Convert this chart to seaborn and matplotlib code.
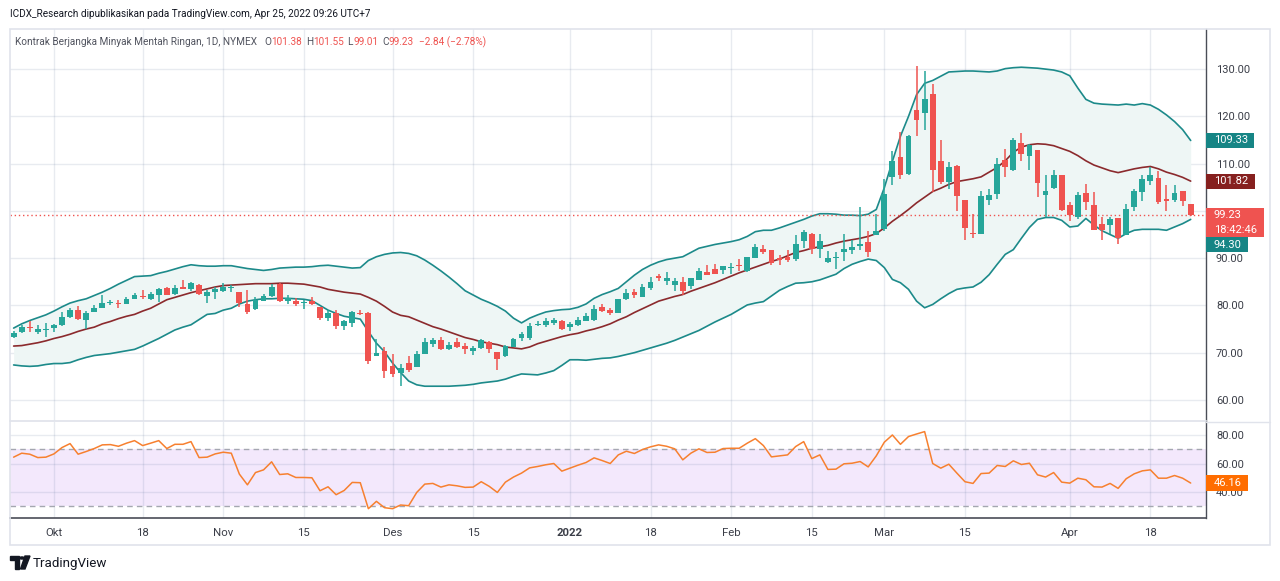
import numpy as np
import pandas as pd
import matplotlib
matplotlib.use("Agg")
import matplotlib.pyplot as plt
import matplotlib.transforms as mtransforms
from matplotlib import font_manager
from matplotlib.patches import Rectangle, Polygon, Circle
from matplotlib.lines import Line2D
import seaborn as sns

# ---------------- data ----------------
start_date = "2021-09-24"
end_date = "2022-04-25"
market_holidays = ["2021-11-25", "2021-12-24", "2022-01-17", "2022-02-21", "2022-04-15"]

open_ = [73.3, 74.3, 75.5, 74.4, 74.8, 75.2, 75.8, 77.5, 79.0, 76.9,
         78.7, 79.5, 80.5, 80.6, 80.4, 81.4, 81.9, 81.4, 82.3, 83.6,
         82.5, 83.9, 83.4, 84.3, 82.0, 82.8, 83.1, 83.7, 82.9, 80.2,
         79.2, 80.9, 81.9, 84.5, 81.0, 81.0, 80.5, 80.9, 79.7, 77.4,
         78.4, 75.7, 76.3, 78.4, 78.4, 69.2, 70.3, 67.2, 65.7, 67.8,
         67.0, 69.7, 71.9, 72.6, 70.7, 72.2, 71.4, 70.3, 71.0, 72.2,
         70.1, 69.3, 71.2, 73.0, 73.1, 75.9, 75.9, 76.2, 76.7, 75.5,
         75.9, 76.8, 77.0, 79.6, 79.0, 78.4, 81.3, 82.9, 81.7, 83.6,
         86.2, 85.1, 84.4, 85.0, 84.1, 85.3, 87.1, 87.6, 87.4, 88.0,
         88.4, 87.3, 90.1, 92.0, 91.7, 90.0, 90.3, 89.8, 93.7, 95.1,
         92.0, 89.1, 90.0, 91.3, 91.7, 92.5, 93.5, 94.9, 96.1, 107.1,
         111.5, 107.9, 121.4, 120.7, 124.8, 110.6, 106.1, 109.6, 102.4, 95.4,
         95.2, 102.3, 103.5, 110.8, 108.6, 114.4, 111.6, 112.8, 103.3, 104.9,
         107.5, 101.2, 98.7, 103.8, 101.2, 97.2, 97.0, 98.5, 94.9, 100.8,
         104.0, 106.3, 107.0, 102.5, 102.3, 104.2, 101.38]
high = [74.5, 75.8, 76.8, 75.9, 76.2, 76.1, 78.6, 79.4, 79.9, 78.8,
        80.0, 82.2, 81.2, 81.2, 81.7, 82.7, 83.2, 82.9, 83.7, 83.9,
        84.4, 85.3, 84.9, 84.5, 83.2, 83.8, 84.7, 84.3, 82.9, 83.2,
        81.7, 82.4, 84.5, 84.8, 82.3, 81.5, 81.2, 81.7, 79.7, 79.0,
        79.1, 77.0, 78.8, 79.1, 78.6, 72.9, 71.2, 69.7, 67.6, 69.4,
        70.3, 73.1, 73.1, 73.4, 72.3, 73.1, 72.1, 71.4, 72.8, 72.4,
        70.1, 71.7, 73.2, 74.3, 76.2, 76.8, 77.3, 77.4, 77.0, 76.5,
        77.6, 78.3, 80.1, 80.4, 79.5, 81.4, 83.4, 83.4, 84.6, 86.1,
        86.6, 87.1, 85.8, 86.1, 85.9, 88.0, 88.6, 88.8, 88.4, 89.0,
        89.8, 90.3, 93.1, 92.7, 91.7, 90.7, 91.7, 94.8, 96.0, 95.4,
        95.2, 91.6, 91.3, 95.1, 93.9, 100.8, 95.8, 99.4, 106.8, 112.6,
        116.8, 116.1, 130.7, 129.6, 126.9, 115.1, 110.4, 109.8, 102.4, 99.4,
        104.3, 104.6, 111.2, 113.2, 115.4, 116.5, 114.1, 112.8, 107.7, 108.7,
        107.7, 101.9, 104.0, 105.6, 104.0, 98.7, 98.7, 98.5, 101.4, 104.7,
        107.5, 109.3, 108.5, 105.4, 105.4, 104.2, 101.55]
low = [73.1, 74.1, 74.4, 74.0, 73.4, 74.4, 75.7, 77.4, 77.0, 75.1,
       78.7, 79.5, 80.0, 79.5, 80.3, 81.4, 81.4, 81.2, 80.8, 82.2,
       82.3, 83.5, 83.1, 82.1, 80.5, 81.4, 82.8, 82.8, 79.7, 78.1,
       79.0, 80.9, 81.7, 80.7, 80.2, 79.9, 79.2, 80.0, 76.9, 76.6,
       75.0, 74.8, 75.4, 78.0, 67.6, 69.2, 64.7, 64.8, 63.0, 66.0,
       67.0, 69.7, 71.2, 70.6, 70.5, 70.9, 69.7, 69.5, 70.8, 69.9,
       66.4, 69.0, 71.2, 72.4, 72.6, 75.7, 75.5, 75.9, 74.9, 74.5,
       75.7, 76.6, 76.8, 78.7, 78.0, 78.3, 81.2, 81.6, 81.7, 83.2,
       85.1, 84.4, 83.1, 82.3, 83.4, 85.3, 86.4, 86.7, 86.6, 86.7,
       87.2, 87.1, 90.1, 90.8, 88.6, 88.5, 89.1, 89.3, 92.2, 90.8,
       90.1, 88.9, 87.6, 89.4, 90.8, 91.7, 90.3, 94.9, 95.7, 105.4,
       106.8, 107.5, 115.8, 117.2, 104.0, 105.6, 104.6, 99.9, 93.8, 94.2,
       95.2, 101.2, 102.6, 107.2, 108.4, 110.6, 108.6, 103.0, 98.7, 104.6,
       99.9, 97.9, 98.2, 100.1, 95.9, 93.8, 95.1, 93.0, 94.9, 100.0,
       102.1, 105.4, 101.5, 100.0, 101.9, 101.0, 99.01]
close = [74.1, 75.5, 75.2, 75.0, 75.1, 75.9, 77.6, 79.0, 77.2, 78.4,
         79.5, 80.5, 80.8, 80.4, 81.4, 82.2, 81.7, 82.4, 83.4, 82.3,
         83.6, 83.5, 84.7, 82.5, 82.9, 83.4, 83.9, 83.9, 80.6, 78.6,
         81.2, 81.9, 83.9, 81.0, 81.6, 80.4, 80.8, 80.4, 77.3, 78.4,
         75.7, 76.7, 78.6, 78.2, 68.3, 70.0, 66.2, 65.5, 66.8, 66.3,
         69.7, 72.2, 72.6, 70.8, 71.7, 71.2, 70.7, 70.9, 72.6, 70.7,
         68.6, 71.4, 72.8, 73.9, 75.7, 76.1, 76.6, 76.9, 75.0, 76.1,
         76.9, 77.7, 79.3, 78.8, 78.3, 81.3, 82.7, 82.1, 83.9, 85.0,
         85.8, 85.7, 85.2, 83.1, 85.7, 87.3, 86.5, 86.7, 88.3, 88.2,
         88.3, 90.2, 92.3, 91.2, 89.0, 89.7, 89.7, 93.1, 95.6, 92.0,
         93.7, 90.1, 90.3, 92.0, 92.3, 93.0, 91.4, 95.8, 103.5, 110.6,
         107.7, 115.8, 119.3, 123.7, 108.6, 106.1, 109.3, 103.1, 96.4, 95.1,
         103.1, 103.3, 110.0, 109.2, 114.9, 112.1, 113.9, 105.8, 104.2, 107.7,
         100.1, 99.2, 103.3, 101.9, 95.9, 95.9, 98.2, 94.2, 100.5, 104.2,
         106.8, 107.5, 101.9, 102.1, 103.7, 102.07, 99.23]

bb_upper = [75.2, 76.1, 76.8, 77.4, 78.0, 78.8, 79.7, 80.5, 81.0, 81.4,
            82.1, 82.8, 83.6, 84.5, 85.3, 86.1, 86.2, 86.3, 86.8, 87.2,
            87.7, 88.2, 88.6, 88.4, 88.3, 88.3, 88.4, 88.4, 88.1, 87.8,
            87.6, 87.4, 87.6, 87.9, 88.0, 88.1, 88.1, 88.2, 88.4, 88.5,
            88.3, 88.1, 87.9, 88.0, 89.5, 90.3, 90.8, 91.1, 91.2, 91.0,
            90.5, 89.6, 88.5, 87.3, 86.0, 84.6, 83.1, 82.2, 81.3, 80.6,
            79.8, 78.8, 77.3, 76.3, 77.3, 78.0, 78.6, 78.9, 79.1, 79.2,
            79.6, 80.3, 81.5, 82.3, 82.9, 83.6, 85.0, 86.4, 87.6, 88.5,
            89.2, 89.7, 90.0, 90.3, 91.2, 92.1, 92.5, 92.9, 93.2, 93.5,
            93.9, 94.6, 95.6, 95.9, 95.9, 96.4, 97.0, 97.6, 98.2, 98.9,
            99.4, 99.4, 99.3, 99.1, 99.1, 99.0, 99.3, 100.3, 104.9, 110.5,
            115.8, 120.0, 124.6, 127.0, 127.6, 128.5, 129.4, 129.5, 129.6, 129.6,
            129.5, 129.4, 129.6, 130.1, 130.3, 130.4, 130.3, 130.2, 130.0, 129.8,
            129.4, 128.6, 126.0, 123.6, 122.8, 122.6, 122.5, 122.4, 122.6, 122.4,
            122.7, 122.4, 121.5, 120.3, 118.9, 117.2, 114.9]
bb_basis = [71.4, 71.5, 71.8, 72.1, 72.5, 73.0, 73.4, 73.9, 74.5, 75.0,
            75.4, 76.1, 76.6, 77.2, 77.7, 78.1, 78.8, 79.4, 80.3, 81.2,
            81.7, 82.2, 82.7, 83.1, 83.5, 83.9, 84.2, 84.3, 84.4, 84.5,
            84.6, 84.6, 84.6, 84.7, 84.7, 84.6, 84.5, 84.2, 83.9, 83.4,
            83.1, 82.8, 82.6, 82.4, 81.7, 80.9, 79.8, 78.6, 77.9, 77.6,
            76.9, 76.2, 75.5, 75.0, 74.4, 73.8, 73.2, 72.8, 72.3, 72.0,
            71.7, 71.2, 71.0, 70.8, 71.2, 71.9, 72.4, 72.9, 73.4, 73.8,
            74.1, 74.6, 75.0, 75.5, 76.1, 76.9, 77.6, 78.5, 79.3, 80.1,
            80.9, 81.4, 81.9, 82.3, 83.0, 83.6, 84.2, 84.8, 85.5, 86.2,
            86.9, 87.5, 88.1, 88.7, 89.3, 89.8, 90.5, 91.2, 91.6, 92.1,
            92.4, 92.7, 93.2, 93.6, 93.9, 94.2, 94.6, 95.2, 96.4, 97.8,
            99.0, 100.3, 101.7, 102.9, 104.1, 104.8, 105.6, 106.2, 106.5, 106.8,
            107.2, 108.2, 109.2, 110.6, 112.4, 113.5, 114.0, 114.2, 114.1, 113.8,
            113.2, 112.6, 111.7, 110.6, 109.7, 109.1, 108.5, 108.1, 108.5, 108.9,
            109.2, 109.4, 108.9, 108.2, 107.7, 107.1, 106.3]
bb_lower = [67.4, 67.2, 67.1, 67.2, 67.5, 67.7, 67.7, 67.9, 68.5, 69.0,
            69.4, 69.6, 69.8, 70.1, 70.4, 70.7, 71.4, 72.2, 73.0, 73.9,
            74.8, 75.4, 75.9, 77.0, 78.1, 78.3, 79.0, 79.4, 80.3, 80.9,
            81.2, 81.4, 81.4, 81.5, 81.5, 81.4, 81.3, 81.0, 80.0, 79.0,
            78.3, 77.7, 77.4, 77.1, 74.5, 72.0, 70.2, 67.8, 65.8, 64.0,
            63.2, 62.9, 62.9, 62.9, 62.9, 63.0, 63.1, 63.3, 63.6, 63.8,
            64.0, 64.4, 65.0, 65.5, 65.4, 65.3, 65.7, 66.2, 67.3, 68.5,
            68.5, 68.4, 68.6, 68.8, 68.9, 69.2, 69.6, 70.0, 70.5, 71.0,
            71.5, 72.0, 72.6, 73.3, 74.0, 74.7, 75.6, 76.5, 77.3, 78.1,
            79.1, 80.1, 80.5, 80.8, 82.0, 83.2, 84.0, 84.7, 84.8, 85.0,
            85.4, 86.0, 86.6, 87.8, 88.7, 89.3, 89.8, 89.5, 88.0, 85.5,
            84.8, 83.4, 80.9, 79.5, 80.2, 81.4, 82.5, 83.4, 83.7, 83.9,
            84.9, 86.5, 88.7, 90.8, 91.8, 94.2, 96.5, 98.2, 98.6, 98.6,
            98.0, 96.6, 96.8, 98.4, 97.0, 95.8, 95.0, 94.2, 95.2, 95.9,
            96.1, 96.1, 96.1, 95.9, 96.6, 97.3, 98.2]
bb_labels = ["109.33", "101.82", "94.30"]

rsi = [64.5, 67.3, 66.6, 64.2, 64.5, 66.8, 71.3, 74.1, 66.6, 68.5,
       70.6, 73.2, 73.4, 72.2, 74.4, 76.2, 72.7, 74.4, 76.2, 70.6,
       73.6, 73.6, 75.5, 64.2, 64.5, 66.8, 68.0, 67.3, 52.5, 44.9,
       53.6, 55.5, 61.2, 52.2, 52.7, 50.1, 50.1, 49.9, 40.7, 43.5,
       37.9, 40.9, 46.6, 46.4, 28.0, 33.2, 28.7, 28.0, 30.6, 30.1,
       39.5, 45.4, 45.9, 43.3, 44.9, 44.2, 43.1, 43.3, 47.1, 43.8,
       39.5, 46.8, 50.4, 53.2, 56.9, 57.9, 59.1, 60.0, 54.6, 56.7,
       58.8, 60.7, 64.0, 62.1, 60.0, 66.1, 68.7, 67.1, 69.9, 71.8,
       73.2, 72.2, 70.4, 62.6, 67.3, 70.4, 67.8, 68.0, 70.6, 70.8,
       70.8, 74.4, 77.6, 72.7, 64.7, 65.4, 66.1, 72.0, 75.5, 63.5,
       66.1, 55.8, 56.0, 59.8, 60.2, 61.4, 57.6, 65.4, 75.1, 80.2,
       73.6, 79.1, 80.9, 82.6, 60.0, 56.7, 59.5, 53.2, 47.1, 45.9,
       52.9, 53.2, 58.6, 57.9, 61.9, 59.3, 60.2, 52.0, 50.4, 53.6,
       46.8, 46.1, 49.6, 48.5, 43.5, 43.3, 45.9, 42.4, 49.2, 52.7,
       54.8, 55.5, 49.6, 49.6, 51.5, 49.6, 46.16]

tick_dates = ["2021-10-01", "2021-10-18", "2021-11-01", "2021-11-15", "2021-12-01",
              "2021-12-15", "2022-01-03", "2022-01-18", "2022-02-01", "2022-02-15",
              "2022-03-01", "2022-03-15", "2022-04-01", "2022-04-18"]
tick_labels = ["Okt", "18", "Nov", "15", "Des", "15", "2022", "18", "Feb", "15",
               "Mar", "15", "Apr", "18"]
price_ticks = [60, 70, 80, 90, 100, 110, 120, 130]
price_tick_labels = ["60.00", "70.00", "80.00", "90.00", "", "110.00", "120.00", "130.00"]
rsi_ticks = [40, 60, 80]
rsi_tick_labels = ["40.00", "60.00", "80.00"]

title_text = "ICDX_Research dipublikasikan pada TradingView.com, Apr 25, 2022 09:26 UTC+7"
symbol_text = "Kontrak Berjangka Minyak Mentah Ringan, 1D, NYMEX"
countdown_text = "18:42:46"

# ---------------- setup ----------------
sns.set_theme(style="white")
plt.rcParams["font.family"] = ["Roboto", "DejaVu Sans"]

installed = {f.name for f in font_manager.fontManager.ttflist}
if "Liberation Sans Narrow" in installed:
    HEAD_FAM, HEAD_FS = ["Liberation Sans Narrow", "DejaVu Sans"], 8.8
else:
    HEAD_FAM, HEAD_FS = ["Roboto", "DejaVu Sans"], 7.2

GREEN, RED = "#26a69a", "#ef5350"
TEAL, MAROON = "#1c8a8a", "#8b2a2d"
RSI_C, TXT = "#f7802f", "#3b3e48"
GRID_RGB, GRID_A = (0.36, 0.45, 0.60), 0.14

dates = pd.bdate_range(start_date, end_date)
dates = dates[~dates.isin(pd.to_datetime(market_holidays))]
idx = np.arange(len(dates))
pos = {d: i for i, d in enumerate(dates)}
tick_pos = [pos[pd.Timestamp(d)] for d in tick_dates]

o, h, l, c = map(np.asarray, (open_, high, low, close))

W, H = 1280, 581
fig = plt.figure(figsize=(W / 100, H / 100), dpi=100)
fig.patch.set_facecolor("white")
fx = lambda px: px / W
fy = lambda py: 1 - py / H

AX_L, AX_R = 10, 1206
P_TOP, P_BOT = 29, 421
R_TOP, R_BOT = 422, 518
ax = fig.add_axes([fx(AX_L), fy(P_BOT), fx(AX_R) - fx(AX_L), fy(P_TOP) - fy(P_BOT)])
axr = fig.add_axes([fx(AX_L), fy(R_BOT), fx(AX_R) - fx(AX_L), fy(R_TOP) - fy(R_BOT)])

XLIM = (-0.45, 147.9)
P_YLIM = (55.54, 138.49)
R_YLIM = (21.4, 89.4)
ax_w_px = AX_R - AX_L

for a in (ax, axr):
    a.set_facecolor("white")
    a.set_xlim(*XLIM)
    a.set_xticks(tick_pos)
    a.grid(True, axis="both", color=GRID_RGB, alpha=GRID_A, lw=1)
    a.tick_params(axis="both", length=0)
    a.yaxis.tick_right()
    a.tick_params(axis="y", pad=7.2, labelsize=8, labelcolor=TXT)
    for s in ("top", "left"):
        a.spines[s].set_visible(False)
    a.spines["right"].set_color("#4a4d57")
    a.spines["right"].set_linewidth(1.0)

ax.set_ylim(*P_YLIM)
ax.set_yticks(price_ticks)
ax.set_yticklabels(price_tick_labels)
ax.tick_params(axis="x", labelbottom=False)
ax.spines["bottom"].set_color("#e0e3eb")

axr.set_ylim(*R_YLIM)
axr.set_yticks(rsi_ticks)
axr.set_yticklabels(rsi_tick_labels)
axr.set_xticklabels(tick_labels)
axr.tick_params(axis="x", pad=7, labelsize=8.2, labelcolor=TXT)
for lab in axr.get_xticklabels():
    if lab.get_text() == "2022":
        lab.set_fontweight("bold")
axr.spines["bottom"].set_color("#4a4d57")
axr.spines["bottom"].set_linewidth(1.2)

# ---------------- price pane ----------------
ax.fill_between(idx, bb_lower, bb_upper, color="#eef6f5", lw=0, zorder=0.8)
sns.lineplot(x=idx, y=bb_upper, ax=ax, color=TEAL, lw=1.2, legend=False, zorder=2)
sns.lineplot(x=idx, y=bb_lower, ax=ax, color=TEAL, lw=1.2, legend=False, zorder=2)
sns.lineplot(x=idx, y=bb_basis, ax=ax, color=MAROON, lw=1.2, legend=False, zorder=2)

up = c >= o
cols = np.where(up, GREEN, RED)
ax.vlines(idx, l, h, colors=cols, lw=1.1, zorder=3)
body_b = np.minimum(o, c)
body_h = np.maximum(np.abs(c - o), 0.15)
ax.bar(idx, body_h, bottom=body_b, width=0.72, color=cols, lw=0, zorder=4)

ax.axhline(c[-1], color=RED, lw=1, ls=(0, (1, 2)), zorder=2.5)
ax.set_xlabel("")
ax.set_ylabel("")

# right-axis value labels
p_ppu = (P_BOT - P_TOP) / (P_YLIM[1] - P_YLIM[0])
r_ppu = (R_BOT - R_TOP) / (R_YLIM[1] - R_YLIM[0])


def axis_label(a, ppu, y_center, w_px, h_px, fc, texts, text_ys):
    tr = mtransforms.blended_transform_factory(a.transAxes, a.transData)
    a.add_patch(Rectangle((1.0, y_center - h_px / 2 / ppu), w_px / ax_w_px, h_px / ppu,
                          transform=tr, facecolor=fc, edgecolor="none",
                          clip_on=False, zorder=20))
    for t, ty in zip(texts, text_ys):
        a.text(1.0 + 8 / ax_w_px, ty, t, transform=tr, color="white", fontsize=8,
               va="center", ha="left", clip_on=False, zorder=21)


axis_label(ax, p_ppu, bb_upper[-1], 48, 15, "#168585", [bb_labels[0]], [bb_upper[-1]])
axis_label(ax, p_ppu, bb_basis[-1], 49, 15, "#86201f", [bb_labels[1]], [bb_basis[-1]])
box_top = c[-1] + 7 / p_ppu
price_box_c = box_top - 14.5 / p_ppu
axis_label(ax, p_ppu, price_box_c, 58, 29, RED,
           [f"{c[-1]:.2f}", countdown_text], [c[-1], c[-1] - 15 / p_ppu])
low_c = box_top - 29 / p_ppu - 8 / p_ppu
axis_label(ax, p_ppu, low_c, 42, 15, "#168585", [bb_labels[2]], [low_c])

# ---------------- RSI pane ----------------
axr.axhspan(30, 70, color="#f3e8fc", lw=0, zorder=0.5)
for lvl in (70, 30):
    axr.axhline(lvl, color="#a4a7b0", lw=1, ls=(0, (4, 3)), zorder=1.6)
sns.lineplot(x=idx, y=rsi, ax=axr, color=RSI_C, lw=1.1, legend=False, zorder=3)
axr.set_xlabel("")
axr.set_ylabel("")
axis_label(axr, r_ppu, rsi[-1], 42, 16, "#ff6d00", [f"{rsi[-1]:.2f}"], [rsi[-1]])

# ---------------- frame / texts ----------------
fig.add_artist(Rectangle((fx(9.5), fy(545)), fx(1270) - fx(9.5), fy(28.5) - fy(545),
                         transform=fig.transFigure, fill=False, edgecolor="#e0e3eb", lw=1.2))
fig.add_artist(Line2D([fx(AX_R), fx(1270)], [fy(421.5), fy(421.5)],
                      transform=fig.transFigure, color="#e0e3eb", lw=1))

fig.text(fx(10), fy(14), title_text, fontsize=HEAD_FS, family=HEAD_FAM,
         color="#131722", va="center", ha="left")

renderer = fig.canvas.get_renderer()
chg = c[-1] - c[-2]
pct = chg / c[-2] * 100
pieces = [(symbol_text, "#50535e", 7), ("O", "#50535e", 0), (f"{o[-1]:.2f}", RED, 4),
          ("H", "#50535e", 0), (f"{h[-1]:.2f}", RED, 4), ("L", "#50535e", 0),
          (f"{l[-1]:.2f}", RED, 4), ("C", "#50535e", 0), (f"{c[-1]:.2f}", RED, 5),
          (f"\u2212{abs(chg):.2f} (\u2212{abs(pct):.2f}%)", RED, 0)]
xcur = 15
for s, col, gap in pieces:
    t = fig.text(fx(xcur), fy(42), s, fontsize=HEAD_FS, family=HEAD_FAM,
                 color=col, va="center", ha="left")
    bb = t.get_window_extent(renderer)
    xcur = bb.x1 + gap

# TradingView footer logo
fig.add_artist(Polygon([(fx(10), fy(556)), (fx(19), fy(556)), (fx(19), fy(569)),
                        (fx(15), fy(569)), (fx(15), fy(560)), (fx(10), fy(560))],
                       closed=True, transform=fig.transFigure, color="#131722"))
fig.add_artist(Circle((fx(22), fy(558)), 0.0018, transform=fig.transFigure, color="#131722"))
fig.add_artist(Polygon([(fx(25), fy(556)), (fx(30), fy(556)), (fx(25), fy(569)),
                        (fx(20.5), fy(569))],
                       closed=True, transform=fig.transFigure, color="#131722"))
fig.text(fx(33), fy(563), "TradingView", fontsize=9.6, color="#131722", va="center", ha="left")

fig.savefig("out.png", dpi=100, facecolor="white")
